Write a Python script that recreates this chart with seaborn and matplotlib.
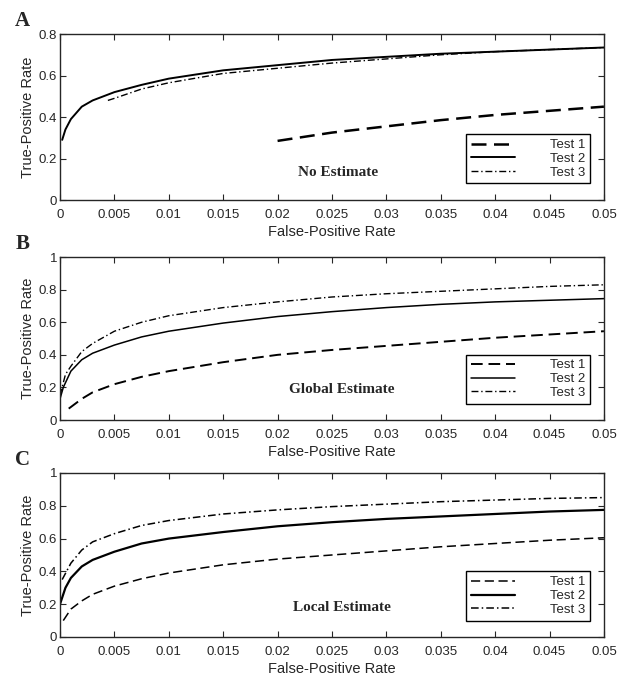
import numpy as np
import pandas as pd
import matplotlib
matplotlib.use('Agg')
import matplotlib.pyplot as plt
import matplotlib.ticker as mticker
import seaborn as sns

sns.set_style('ticks')
plt.rcParams['font.family'] = ['Liberation Sans', 'DejaVu Sans']

## data
# panel A - no estimate
a_t1_x = [0.02, 0.025, 0.03, 0.035, 0.04, 0.045, 0.05]
a_t1_y = [0.285, 0.325, 0.355, 0.385, 0.41, 0.43, 0.45]
a_t2_x = [0.0002, 0.0005, 0.001, 0.002, 0.003, 0.005, 0.0075, 0.01, 0.015, 0.02, 0.025, 0.03, 0.035, 0.04, 0.045, 0.05]
a_t2_y = [0.29, 0.34, 0.39, 0.45, 0.48, 0.52, 0.555, 0.585, 0.625, 0.65, 0.675, 0.69, 0.705, 0.715, 0.725, 0.735]
a_t3_x = [0.0044, 0.005, 0.0075, 0.01, 0.015, 0.02, 0.025, 0.03, 0.035, 0.04, 0.045, 0.05]
a_t3_y = [0.48, 0.49, 0.535, 0.565, 0.61, 0.635, 0.66, 0.68, 0.70, 0.715, 0.725, 0.735]

# panel B - global estimate
b_t1_x = [0.0008, 0.002, 0.003, 0.005, 0.0075, 0.01, 0.015, 0.02, 0.025, 0.03, 0.035, 0.04, 0.045, 0.05]
b_t1_y = [0.07, 0.13, 0.17, 0.22, 0.265, 0.30, 0.355, 0.40, 0.43, 0.455, 0.48, 0.505, 0.525, 0.545]
b_t2_x = [0.0, 0.0003, 0.001, 0.002, 0.003, 0.005, 0.0075, 0.01, 0.015, 0.02, 0.025, 0.03, 0.035, 0.04, 0.045, 0.05]
b_t2_y = [0.13, 0.20, 0.30, 0.37, 0.41, 0.46, 0.51, 0.545, 0.595, 0.635, 0.665, 0.69, 0.71, 0.725, 0.735, 0.745]
b_t3_x = [0.0, 0.0005, 0.001, 0.002, 0.003, 0.005, 0.0075, 0.01, 0.015, 0.02, 0.025, 0.03, 0.035, 0.04, 0.045, 0.05]
b_t3_y = [0.15, 0.28, 0.33, 0.42, 0.47, 0.545, 0.60, 0.64, 0.69, 0.725, 0.755, 0.775, 0.79, 0.805, 0.82, 0.83]

# panel C - local estimate
c_t1_x = [0.0003, 0.001, 0.002, 0.003, 0.005, 0.0075, 0.01, 0.015, 0.02, 0.025, 0.03, 0.035, 0.04, 0.045, 0.05]
c_t1_y = [0.10, 0.17, 0.22, 0.26, 0.31, 0.355, 0.39, 0.44, 0.475, 0.50, 0.525, 0.55, 0.57, 0.59, 0.605]
c_t2_x = [0.0, 0.0005, 0.001, 0.002, 0.003, 0.005, 0.0075, 0.01, 0.015, 0.02, 0.025, 0.03, 0.035, 0.04, 0.045, 0.05]
c_t2_y = [0.20, 0.30, 0.36, 0.43, 0.47, 0.52, 0.57, 0.60, 0.64, 0.675, 0.70, 0.72, 0.735, 0.75, 0.765, 0.775]
c_t3_x = [0.0002, 0.001, 0.002, 0.003, 0.005, 0.0075, 0.01, 0.015, 0.02, 0.025, 0.03, 0.035, 0.04, 0.045, 0.05]
c_t3_y = [0.35, 0.45, 0.53, 0.58, 0.63, 0.68, 0.71, 0.75, 0.775, 0.795, 0.81, 0.825, 0.835, 0.845, 0.85]

labels = ['Test 1', 'Test 2', 'Test 3']
titles = ['No Estimate', 'Global Estimate', 'Local Estimate']
letters = ['A', 'B', 'C']
y_tops = [0.8, 1.0, 1.0]
series_all = [
    [(a_t1_x, a_t1_y), (a_t2_x, a_t2_y), (a_t3_x, a_t3_y)],
    [(b_t1_x, b_t1_y), (b_t2_x, b_t2_y), (b_t3_x, b_t3_y)],
    [(c_t1_x, c_t1_y), (c_t2_x, c_t2_y), (c_t3_x, c_t3_y)],
]

## styling per panel (line widths differ a little in the original)
widths_all = [[1.8, 1.4, 1.0], [1.4, 1.1, 1.0], [1.1, 1.6, 1.1]]
line_styles = [(0, (6, 3)), '-', (0, (5, 2, 1, 2))]
title_pos = [(0.0256, 0.163), (0.0259, 0.19), (0.0259, 0.18)]  # x data, y axes frac

## figure with three stacked axes placed by hand
fig = plt.figure(figsize=(6.31, 6.79), dpi=100)
rects = [
    [0.0951, 0.7054, 0.862, 0.2445],
    [0.0951, 0.3814, 0.862, 0.2400],
    [0.0951, 0.0619, 0.862, 0.2415],
]

for i, rect in enumerate(rects):
    ax = fig.add_axes(rect)
    for (xs, ys), lab, ls, lw in zip(series_all[i], labels, line_styles, widths_all[i]):
        sns.lineplot(x=xs, y=ys, ax=ax, color='black', linestyle=ls,
                     linewidth=lw, label=lab)
    ax.set_xlim(0, 0.05)
    ax.set_ylim(0, y_tops[i])
    ax.xaxis.set_major_locator(mticker.MultipleLocator(0.005))
    ax.yaxis.set_major_locator(mticker.MultipleLocator(0.2))
    ax.xaxis.set_major_formatter(mticker.FormatStrFormatter('%g'))
    ax.yaxis.set_major_formatter(mticker.FuncFormatter(lambda v, p: '%g' % round(v, 3)))
    ax.tick_params(direction='in', length=4, width=0.8, top=True, right=True,
                   labelsize=9.5)
    ax.tick_params(axis='x', pad=6.5)
    ax.tick_params(axis='y', pad=2)
    for sp in ax.spines.values():
        sp.set_linewidth(1.0)
    ax.set_xlabel('False-Positive Rate', fontsize=10.5, labelpad=3)
    ax.set_ylabel('True-Positive Rate', fontsize=10.5, labelpad=3)
    tx, ty = title_pos[i]
    ax.text(tx, ty, titles[i], transform=ax.get_xaxis_transform(),
            ha='center', va='center', fontsize=11, fontweight='bold',
            family='Liberation Serif')
    leg = ax.legend(loc='lower right', bbox_to_anchor=(0.974, 0.10),
                    fancybox=False, edgecolor='black', framealpha=1,
                    fontsize=9.5, handlelength=3.4, borderpad=0.35,
                    labelspacing=0.12, handletextpad=2.6, borderaxespad=0)
    leg.get_frame().set_linewidth(1.0)
    fig.text(0.024, rect[1] + rect[3] + 0.019, letters[i], fontsize=15,
             fontweight='bold', family='Liberation Serif', va='center')

plt.savefig('out.png', dpi=100)
